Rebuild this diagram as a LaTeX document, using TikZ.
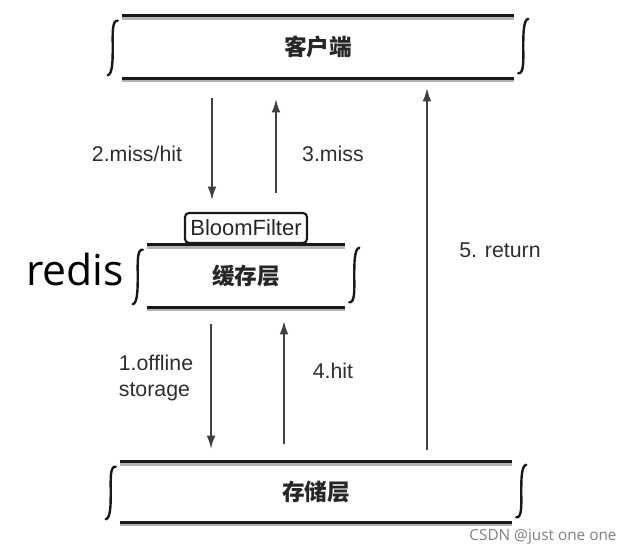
\documentclass[tikz,border=0pt]{standalone}
\usepackage{fontspec}
\setmainfont{Liberation Sans}
\newfontfamily\cjk{Noto Sans CJK SC}
\newfontfamily\opensans{Open Sans}
\usetikzlibrary{arrows.meta,calc}
\def\px{0.75pt}
\tikzset{
  layer/.style={inner sep=0pt, font=\cjk\bfseries\fontsize{17}{20}\selectfont, text=black!85},
  bar/.style={line width=2.4pt, black!90},
  barshadow/.style={line width=2pt, black!30},
  bracket/.style={line width=1.8pt, black!90, line cap=round},
  arr/.style={line width=1.4pt, black!75, -{Latex[length=10pt,width=6.5pt]}},
  lbl/.style={font=\fontsize{16}{19}\selectfont, text=black!82, inner sep=0pt},
  bloom/.style={draw=black!90, line width=1.6pt, rounded corners=3pt, inner sep=0pt,
    font=\fontsize{16.5}{19}\selectfont, text=black!85}
}
\newcommand{\layerbars}[1]{%
  \draw[barshadow] ($(#1.north west)+(0,2.5)$) -- ($(#1.north east)+(0,2.5)$);
  \draw[barshadow] ($(#1.south west)+(0,2.5)$) -- ($(#1.south east)+(0,2.5)$);
  \draw[bar] (#1.north west) -- (#1.north east);
  \draw[bar] (#1.south west) -- (#1.south east);
  \draw[bracket] ($(#1.north west)+(-4,5)$) .. controls +(-6,-1) and +(0,-12) .. ($(#1.west)+(-9,0)$)
     .. controls +(0,12) and +(5,-1) .. ($(#1.south west)+(-14,-3)$);
  \draw[bracket] ($(#1.north east)+(14,3)$) .. controls +(-5,1) and +(0,-12) .. ($(#1.east)+(9,0)$)
     .. controls +(0,12) and +(6,1) .. ($(#1.south east)+(4,-5)$);
}
\begin{document}
\begin{tikzpicture}[x=0.75pt,y=-0.75pt]
\useasboundingbox (0,0) rectangle (636,556);
% layers
\node[layer, minimum width=392*\px, minimum height=62*\px] (client) at (318,47) {客户端};
\node[layer, minimum width=198*\px, minimum height=62*\px] (cache) at (246,276) {缓存层};
\node[layer, minimum width=392*\px, minimum height=60*\px] (store) at (316,492) {存储层};
\layerbars{client}
\layerbars{cache}
\layerbars{store}
% bloom filter
\node[bloom, minimum width=122*\px, minimum height=30*\px] (bf) at (246,228) {BloomFilter};
% redis
\node[font=\opensans\fontsize{32}{36}\selectfont, inner sep=0pt, anchor=base west] (redis) at (26,286) {redis};
% arrow coordinates
\coordinate (a2s) at (212,98);  \coordinate (a2e) at (212,200);
\coordinate (a3s) at (276,193); \coordinate (a3e) at (276,99);
\coordinate (a1s) at (211,324); \coordinate (a1e) at (211,449);
\coordinate (a4s) at (284,444); \coordinate (a4e) at (284,321);
\coordinate (a5s) at (427,450); \coordinate (a5e) at (427,88);
\draw[arr] (a2s) -- (a2e);
\draw[arr] (a3s) -- (a3e);
\draw[arr] (a1s) -- (a1e);
\draw[arr] (a4s) -- (a4e);
\draw[arr] (a5s) -- (a5e);
% labels
\node[lbl] (l2) at (137,154) {2.miss/hit};
\node[lbl] (l3) at (333,154) {3.miss};
\node[lbl, align=left] (l1) at (156,378) {1.offline\\storage};
\node[lbl] (l4) at (333,371) {4.hit};
\node[lbl] (l5) at (500,250) {5. return};
% footer
\node[font=\opensans\fontsize{11.5}{13}\selectfont, text=black!50, inner sep=0pt] (csdn) at (543,537) {CSDN @just one one};
\end{tikzpicture}
\end{document}
